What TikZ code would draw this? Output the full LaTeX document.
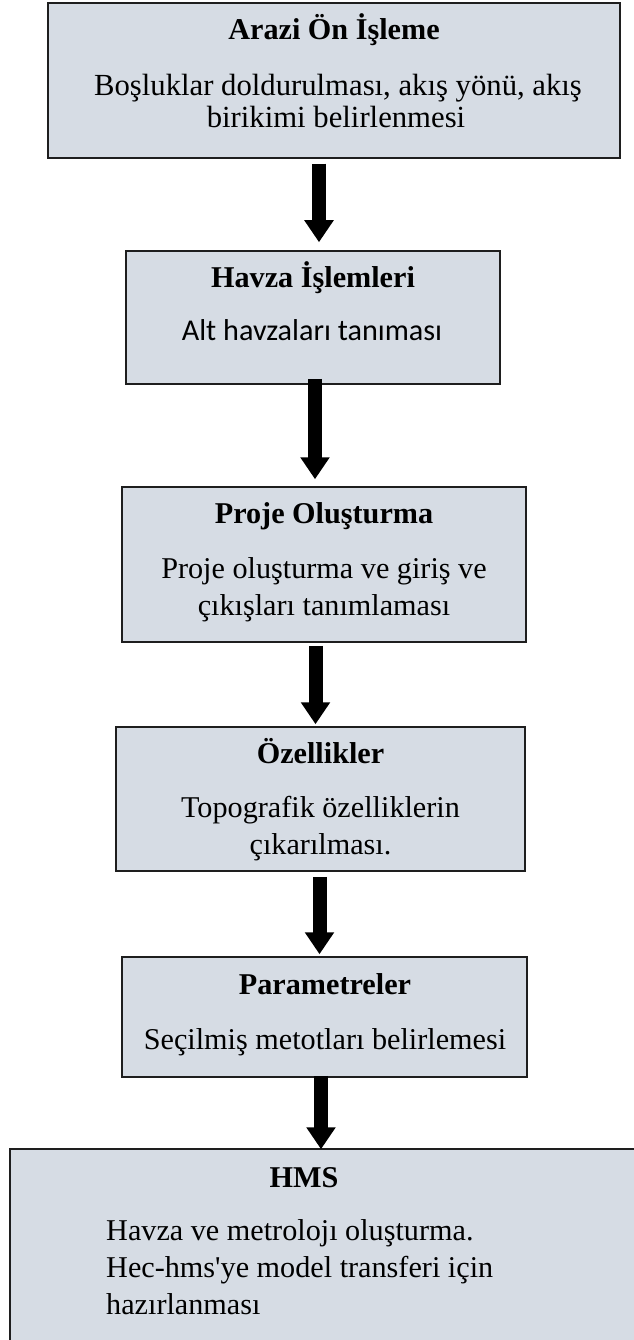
\documentclass[tikz,border=0pt]{standalone}
\usepackage{fontspec}
\setmainfont{Liberation Serif}
\newfontfamily\calibrifont{Carlito}
\usetikzlibrary{arrows.meta,calc}
\definecolor{boxfill}{HTML}{D6DCE4}
\definecolor{boxline}{HTML}{1E1E1E}
\begin{document}
\begin{tikzpicture}[x=1pt,y=-1pt,
  box/.style={draw=boxline, fill=boxfill, line width=1.5pt, rectangle, inner sep=0pt},
  txt/.style={anchor=base, inner sep=0pt, font=\fontsize{30.2}{36}\selectfont},
  ttl/.style={txt, font=\fontsize{30.2}{36}\selectfont\bfseries},
  fat/.style={line width=14pt, -{Triangle[width=28pt,length=22pt]}}]
\useasboundingbox (0,0) rectangle (633,1340);
% boxes
\node[box, minimum width=572pt, minimum height=155pt] (b1) at (334,80.5) {};
\node[box, minimum width=374pt, minimum height=133pt] (b2) at (313,317.5) {};
\node[box, minimum width=404pt, minimum height=155pt] (b3) at (324,564.5) {};
\node[box, minimum width=409pt, minimum height=144pt] (b4) at (320.5,799) {};
\node[box, minimum width=405pt, minimum height=120pt] (b5) at (324.5,1017) {};
\node[box, minimum width=635pt, minimum height=205pt] (b6) at (327.5,1251.5) {};
% texts
\node[ttl] (t1) at (334,40) {Arazi Ön İşleme};
\node[txt, font=\fontsize{30.7}{36}\selectfont] (t1a) at (338,96) {Boşluklar doldurulması, akış yönü, akış};
\node[txt, font=\fontsize{30.7}{36}\selectfont] (t1b) at (336,128) {birikimi belirlenmesi};
\node[ttl] (t2) at (313,287) {Havza İşlemleri};
\node[txt, font=\fontsize{30.2}{36}\selectfont\calibrifont] (t2a) at (312,340) {Alt havzaları tanıması};
\node[ttl] (t3) at (324,523) {Proje Oluşturma};
\node[txt] (t3a) at (324,578) {Proje oluşturma ve giriş ve};
\node[txt] (t3b) at (324,615) {çıkışları tanımlaması};
\node[ttl] (t4) at (320.5,763) {Özellikler};
\node[txt] (t4a) at (320.5,817) {Topografik özelliklerin};
\node[txt] (t4b) at (320.5,854) {çıkarılması.};
\node[ttl] (t5) at (325,994) {Parametreler};
\node[txt] (t5a) at (325,1049) {Seçilmiş metotları belirlemesi};
\node[ttl] (t6) at (304,1187) {HMS};
\node[txt, anchor=base west] (t6a) at (106,1240) {Havza ve metrolojı oluşturma.};
\node[txt, anchor=base west] (t6b) at (106,1277) {Hec-hms\textquotesingle ye model transferi için};
\node[txt, anchor=base west] (t6c) at (106,1314) {hazırlanması};
% arrow axes
\coordinate (x1) at (319,0);
\coordinate (x2) at (315,0);
\coordinate (x3) at (315.5,0);
\coordinate (x4) at (319.5,0);
\coordinate (x5) at (321,0);
% arrows
\draw[fat] ($(b1.south -| x1)+(0,5)$) -- ($(b2.north -| x1)+(0,-8)$);
\draw[fat] ($(b2.south -| x2)+(0,-6)$) -- ($(b3.north -| x2)+(0,-7)$);
\draw[fat] ($(b3.south -| x3)+(0,3)$) -- ($(b4.north -| x3)+(0,-2)$);
\draw[fat] ($(b4.south -| x4)+(0,5)$) -- ($(b5.north -| x4)+(0,-2)$);
\draw[fat] ($(b5.south -| x5)+(0,-2)$) -- ($(b6.north -| x5)+(0,1)$);
\end{tikzpicture}
\end{document}
